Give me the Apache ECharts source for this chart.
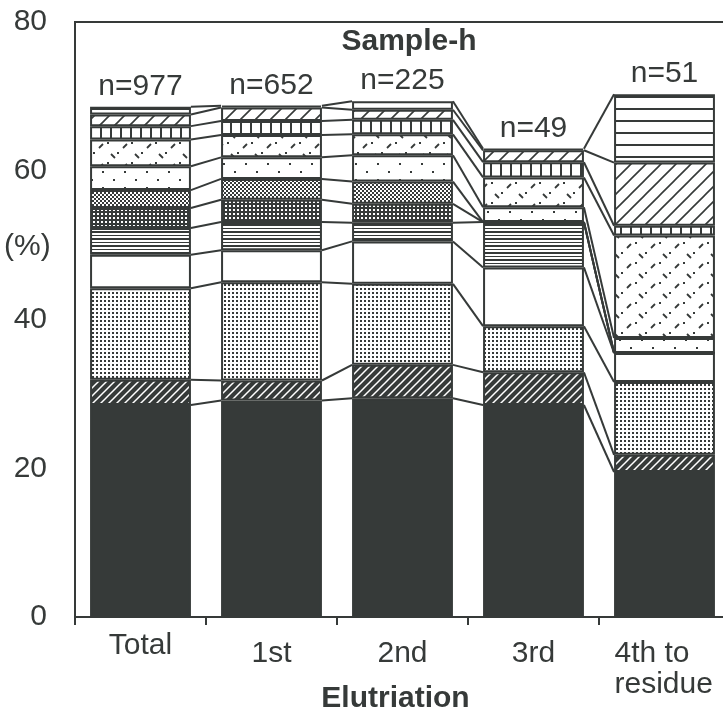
<!DOCTYPE html>
<html>
<head>
<meta charset="utf-8">
<script src="https://cdn.jsdelivr.net/npm/echarts@6/dist/echarts.min.js"></script>
<style>
  html, body { margin: 0; padding: 0; background: #fff; }
  #chart { width: 723px; height: 720px; }
</style>
</head>
<body>
<div id="chart"></div>
<script>
// ---- data (bottom layer first), columns follow categories ----
const categories = ['Total', '1st', '2nd', '3rd', '4th to\nresidue'];
const nLabels = ['n=977', 'n=652', 'n=225', 'n=49', 'n=51'];
const layerSolid      = [28.5, 29.1, 29.4, 28.5, 19.5];
const layerDenseHatch = [3.4, 2.7, 4.5, 4.4, 2.3];
const layerFineDots   = [12.3, 13.2, 10.9, 6.2, 9.8];
const layerBlank      = [4.5, 4.3, 5.7, 7.9, 3.9];
const layerHLines     = [3.6, 3.8, 2.5, 6.1, 0];
const layerDenseGrid  = [2.7, 3.0, 2.55, 0, 0];
const layerChecker    = [2.4, 2.8, 3.0, 0, 0];
const layerDots       = [3.2, 2.9, 3.55, 2.0, 2.0];
const layerDashes     = [3.6, 3.0, 2.8, 4.0, 13.8];
const layerVLines     = [1.8, 1.9, 1.95, 2.05, 1.3];
const layerHatch      = [1.55, 1.8, 1.35, 1.6, 8.5];
const layerWideHLines = [1.05, 0.25, 1.15, 0.2, 9.2];
const yTicks = [0, 20, 40, 60, 80];

const layers = [layerSolid, layerDenseHatch, layerFineDots, layerBlank, layerHLines,
  layerDenseGrid, layerChecker, layerDots, layerDashes, layerVLines, layerHatch, layerWideHLines];

// ---- styles ----
const INK = '#363a39';
const FONT = '"Liberation Sans", Arial, Helvetica, sans-serif';
const BAR_FRACTION = 0.77;

function tile(w, h, draw, bg) {
  const c = document.createElement('canvas');
  c.width = w; c.height = h;
  const g = c.getContext('2d');
  g.fillStyle = bg || '#ffffff';
  g.fillRect(0, 0, w, h);
  g.fillStyle = INK; g.strokeStyle = INK;
  draw(g, w, h);
  return { image: c, repeat: 'repeat' };
}
function diag(g, s, lw, col) {
  g.strokeStyle = col; g.lineWidth = lw;
  g.beginPath();
  g.moveTo(-1, s + 1); g.lineTo(s + 1, -1);
  g.moveTo(-s / 2 - 1, s / 2 + 1); g.lineTo(s / 2 + 1, -s / 2 - 1);
  g.moveTo(s / 2 - 1, s * 1.5 + 1); g.lineTo(s * 1.5 + 1, s / 2 - 1);
  g.stroke();
}
const patterns = [
  INK,
  tile(8, 8, (g) => { diag(g, 8, 1.5, '#ffffff'); }, INK),
  tile(4, 4, (g) => { g.fillRect(0, 0, 2, 2); }),
  '#ffffff',
  tile(1, 7, (g) => { g.fillRect(0, 0, 1, 2); g.fillRect(0, 4, 1, 1); }),
  tile(4, 4, (g) => { g.fillStyle = '#ffffff'; g.fillRect(1, 1, 2, 2); }, INK),
  tile(4, 4, (g) => { g.fillRect(0, 0, 2, 2); g.fillRect(2, 2, 2, 2); }),
  tile(22, 16, (g) => { g.fillRect(3, 3, 2, 2); g.fillRect(14, 11, 2, 2); }),
  tile(24, 20, (g) => {
    g.lineWidth = 1.8;
    g.beginPath();
    g.moveTo(3, 8); g.lineTo(7, 4);
    g.moveTo(15, 14); g.lineTo(19, 18);
    g.stroke();
    g.fillRect(11, 2, 2, 2); g.fillRect(21, 12, 2, 2);
  }),
  tile(10, 1, (g) => { g.fillRect(0, 0, 2, 1); }),
  tile(15, 15, (g) => { diag(g, 15, 1.6, INK); }),
  tile(1, 12, (g) => { g.fillRect(0, 0, 1, 2); })
];

function cumAt(i, k) {
  let s = 0;
  for (let j = 0; j <= k; j++) s += layers[j][i];
  return s;
}

const barSeries = layers.map((vals, k) => ({
  type: 'bar',
  stack: 'all',
  barWidth: (BAR_FRACTION * 100) + '%',
  data: vals,
  itemStyle: { color: patterns[k], borderColor: INK, borderWidth: 2 },
  emphasis: { disabled: true },
  label: k === layers.length - 1 ? {
    show: true, position: 'top', distance: 5,
    formatter: (p) => nLabels[p.dataIndex],
    fontSize: 30, fontFamily: FONT, color: INK
  } : { show: false },
  z: 2
}));

const connectorSeries = {
  type: 'custom',
  data: categories.slice(0, -1).map((c, i) => [i, 0]),
  encode: { x: 0, y: 1 },
  clip: false,
  z: 3,
  silent: true,
  renderItem: (params, api) => {
    const i = api.value(0);
    const hw = api.size([1, 0])[0] * BAR_FRACTION / 2;
    const children = [];
    for (let k = 0; k < layers.length; k++) {
      const a = api.coord([i, cumAt(i, k)]);
      const b = api.coord([i + 1, cumAt(i + 1, k)]);
      children.push({
        type: 'line',
        shape: { x1: a[0] + hw, y1: a[1], x2: b[0] - hw, y2: b[1] },
        style: { stroke: INK, lineWidth: 2 }
      });
    }
    return { type: 'group', children };
  }
};

const chart = echarts.init(document.getElementById('chart'), null, { renderer: 'canvas' });
chart.setOption({
  animation: false,
  backgroundColor: '#ffffff',
  textStyle: { fontFamily: FONT },
  grid: {
    left: 75, top: 22, width: 655, height: 595,
    outerBoundsMode: 'none', containLabel: false,
    show: true, borderColor: INK, borderWidth: 2, backgroundColor: 'transparent'
  },
  graphic: [
    { type: 'text', x: 409, y: 27, style: { text: 'Sample-h', textAlign: 'center', textVerticalAlign: 'top', font: 'bold 30px ' + FONT, fill: INK } },
    { type: 'text', x: 4, y: 247, style: { text: '(%)', textAlign: 'left', textVerticalAlign: 'middle', font: '30px ' + FONT, fill: INK } }
  ],
  xAxis: {
    type: 'category',
    data: categories,
    axisLine: { lineStyle: { color: INK, width: 2 } },
    axisTick: { show: true, length: 8, lineStyle: { color: INK, width: 2 } },
    axisLabel: {
      margin: 14,
      interval: 0,
      color: INK,
      fontSize: 30,
      fontFamily: FONT,
      formatter: (v, idx) => {
        const lines = v.split('\n');
        if (idx === 0) return '{t|' + v + '}';
        if (lines.length > 1) return lines.map((s, j) => '{' + (j === 0 ? 'l1' : 'l2') + '|' + s + '}').join('\n');
        return '{d|' + v + '}';
      },
      rich: {
        t: { fontSize: 30, fontFamily: FONT, color: INK },
        d: { fontSize: 30, fontFamily: FONT, color: INK, padding: [8, 0, 0, 0] },
        l1: { fontSize: 30, fontFamily: FONT, color: INK, width: 100, align: 'left', padding: [8, 0, 0, 0] },
        l2: { fontSize: 30, fontFamily: FONT, color: INK, width: 100, align: 'left', lineHeight: 32 }
      }
    },
    name: 'Elutriation',
    nameLocation: 'middle',
    nameGap: 67,
    nameMoveOverlap: false,
    nameTextStyle: { fontSize: 30, fontWeight: 'bold', color: INK, fontFamily: FONT, padding: [0, 14, 0, 0] }
  },
  yAxis: {
    type: 'value',
    min: yTicks[0],
    max: yTicks[yTicks.length - 1],
    interval: yTicks[1] - yTicks[0],
    axisLine: { show: true, lineStyle: { color: INK, width: 2 } },
    axisTick: { show: false },
    splitLine: { show: false },
    axisLabel: { margin: 28, color: INK, fontSize: 30, fontFamily: FONT }
  },
  series: barSeries.concat([connectorSeries])
});
</script>
</body>
</html>
